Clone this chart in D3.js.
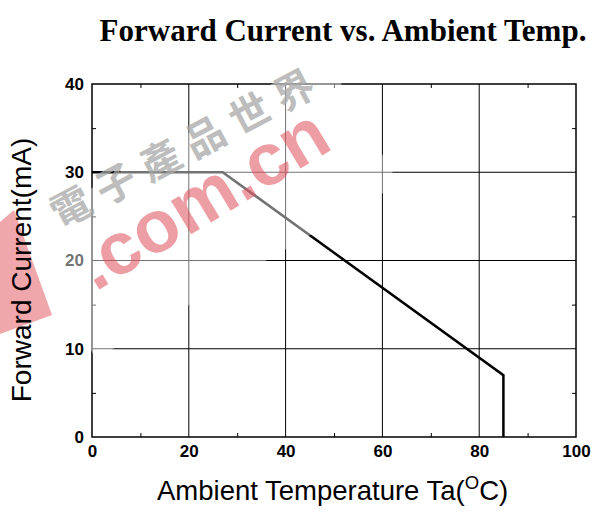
<!DOCTYPE html>
<html><head><meta charset="utf-8">
<script src="https://cdn.jsdelivr.net/npm/d3@7/dist/d3.min.js"></script>
<style>body{margin:0;background:#fff}svg{display:block}</style>
</head><body>
<script>
// Data
const tempC = [0, 27, 85, 85];
const currentMA = [30, 30, 7, 0];
const xTicks = [0, 20, 40, 60, 80, 100];
const yTicks = [0, 10, 20, 30, 40];
const xMinor = [10, 30, 50, 70, 90];
const yMinor = [5, 15, 25, 35];
const titleText = "Forward Current vs. Ambient Temp.";
const xTitle = "Ambient Temperature Ta(";
const yTitle = "Forward Current(mA)";
const wmCn = ["電","子","產","品","世","界"];

const W = 602, H = 512;
const m = {l: 92, r: 26, t: 84, b: 75};
const svg = d3.select("body").append("svg").attr("width", W).attr("height", H);
const x = d3.scaleLinear().domain([0, 100]).range([m.l, W - m.r]);
const y = d3.scaleLinear().domain([0, 40]).range([H - m.b, m.t]);

// grid
const g = svg.append("g");
g.selectAll(".gx").data(xTicks.slice(1, -1)).join("line")
  .attr("x1", d => x(d)).attr("x2", d => x(d)).attr("y1", y(0)).attr("y2", y(40))
  .attr("stroke", "#000").attr("stroke-width", 1);
g.selectAll(".gy").data(yTicks.slice(1, -1)).join("line")
  .attr("y1", d => y(d)).attr("y2", d => y(d)).attr("x1", x(0)).attr("x2", x(100))
  .attr("stroke", "#000").attr("stroke-width", 1);

// minor ticks (inward)
svg.append("g").attr("transform", `translate(0,${y(0)})`)
  .call(d3.axisTop(x).tickValues(xMinor).tickSize(4).tickFormat(""));
svg.append("g").attr("transform", `translate(0,${y(40)})`)
  .call(d3.axisBottom(x).tickValues(xMinor).tickSize(4).tickFormat(""));
svg.append("g").attr("transform", `translate(${x(0)},0)`)
  .call(d3.axisRight(y).tickValues(yMinor).tickSize(4).tickFormat(""));
svg.append("g").attr("transform", `translate(${x(100)},0)`)
  .call(d3.axisLeft(y).tickValues(yMinor).tickSize(4).tickFormat(""));
svg.selectAll(".domain").remove();
svg.append("rect").attr("x", x(0)).attr("y", y(40)).attr("width", x(100) - x(0)).attr("height", y(0) - y(40))
  .attr("fill", "none").attr("stroke", "#000").attr("stroke-width", 1.5);

// tick labels
const xl = svg.append("g").attr("transform", `translate(0,${y(0)})`)
  .call(d3.axisBottom(x).tickValues(xTicks).tickSize(0).tickPadding(8).tickFormat(d3.format("d")));
const yl = svg.append("g").attr("transform", `translate(${x(0)},0)`)
  .call(d3.axisLeft(y).tickValues(yTicks).tickSize(0).tickPadding(8).tickFormat(d3.format("d")));
[xl, yl].forEach(s => {
  s.select(".domain").remove();
  s.selectAll("text").attr("font-family", "Liberation Sans, Arial, sans-serif")
    .attr("font-weight", "bold").attr("font-size", 17).attr("fill", "#000");
});

// data line
svg.append("path").datum(tempC.map((t, i) => [t, currentMA[i]]))
  .attr("d", d3.line().x(d => x(d[0])).y(d => y(d[1])))
  .attr("fill", "none").attr("stroke", "#000").attr("stroke-width", 2.5).attr("stroke-linejoin", "miter");

// watermark
const wm = svg.append("g");
wm.append("path").attr("d", "M0,222 L14,210 L52,315 L0,334 Z").attr("fill", "#e0505a").attr("opacity", 0.5);
wm.append("g").attr("transform", "translate(215,215) rotate(-30)")
  .append("rect").attr("x", -175).attr("y", -85).attr("width", 350).attr("height", 150)
  .attr("fill", "#fff").attr("opacity", 0.45);
wm.append("text").attr("transform", "translate(95,292) rotate(-31)")
  .attr("font-family", "Liberation Sans, Arial, sans-serif").attr("font-weight", "bold")
  .attr("font-size", 74).attr("fill", "#e0505a").attr("opacity", 0.55).text(".com.cn");
wm.selectAll(".cn").data(wmCn).join("text")
  .attr("transform", (d, i) => `translate(${70 + i * 44.6},${205 - i * 23.4}) rotate(-28)`)
  .attr("text-anchor", "middle").attr("dominant-baseline", "central")
  .attr("font-family", "Noto Sans CJK TC").attr("font-weight", "bold").attr("font-size", 40)
  .attr("fill", "#a8a8a8").attr("opacity", 0.75).text(d => d);

// titles
svg.append("text").attr("x", 343).attr("y", 41).attr("text-anchor", "middle")
  .attr("font-family", "Liberation Serif, Times New Roman, serif").attr("font-weight", "bold")
  .attr("font-size", 31).attr("fill", "#000").text(titleText);
const xt = svg.append("text").attr("x", 157).attr("y", 500)
  .attr("font-family", "Liberation Sans, Arial, sans-serif").attr("font-size", 27.5).attr("fill", "#000");
xt.append("tspan").text(xTitle);
xt.append("tspan").attr("dy", -11).attr("font-size", 18.5).text("O");
xt.append("tspan").attr("dy", 11).text("C)");
svg.append("text").attr("transform", "translate(31,270) rotate(-90)").attr("text-anchor", "middle")
  .attr("font-family", "Liberation Sans, Arial, sans-serif").attr("font-size", 28).attr("fill", "#000")
  .text(yTitle);
</script>
</body></html>
